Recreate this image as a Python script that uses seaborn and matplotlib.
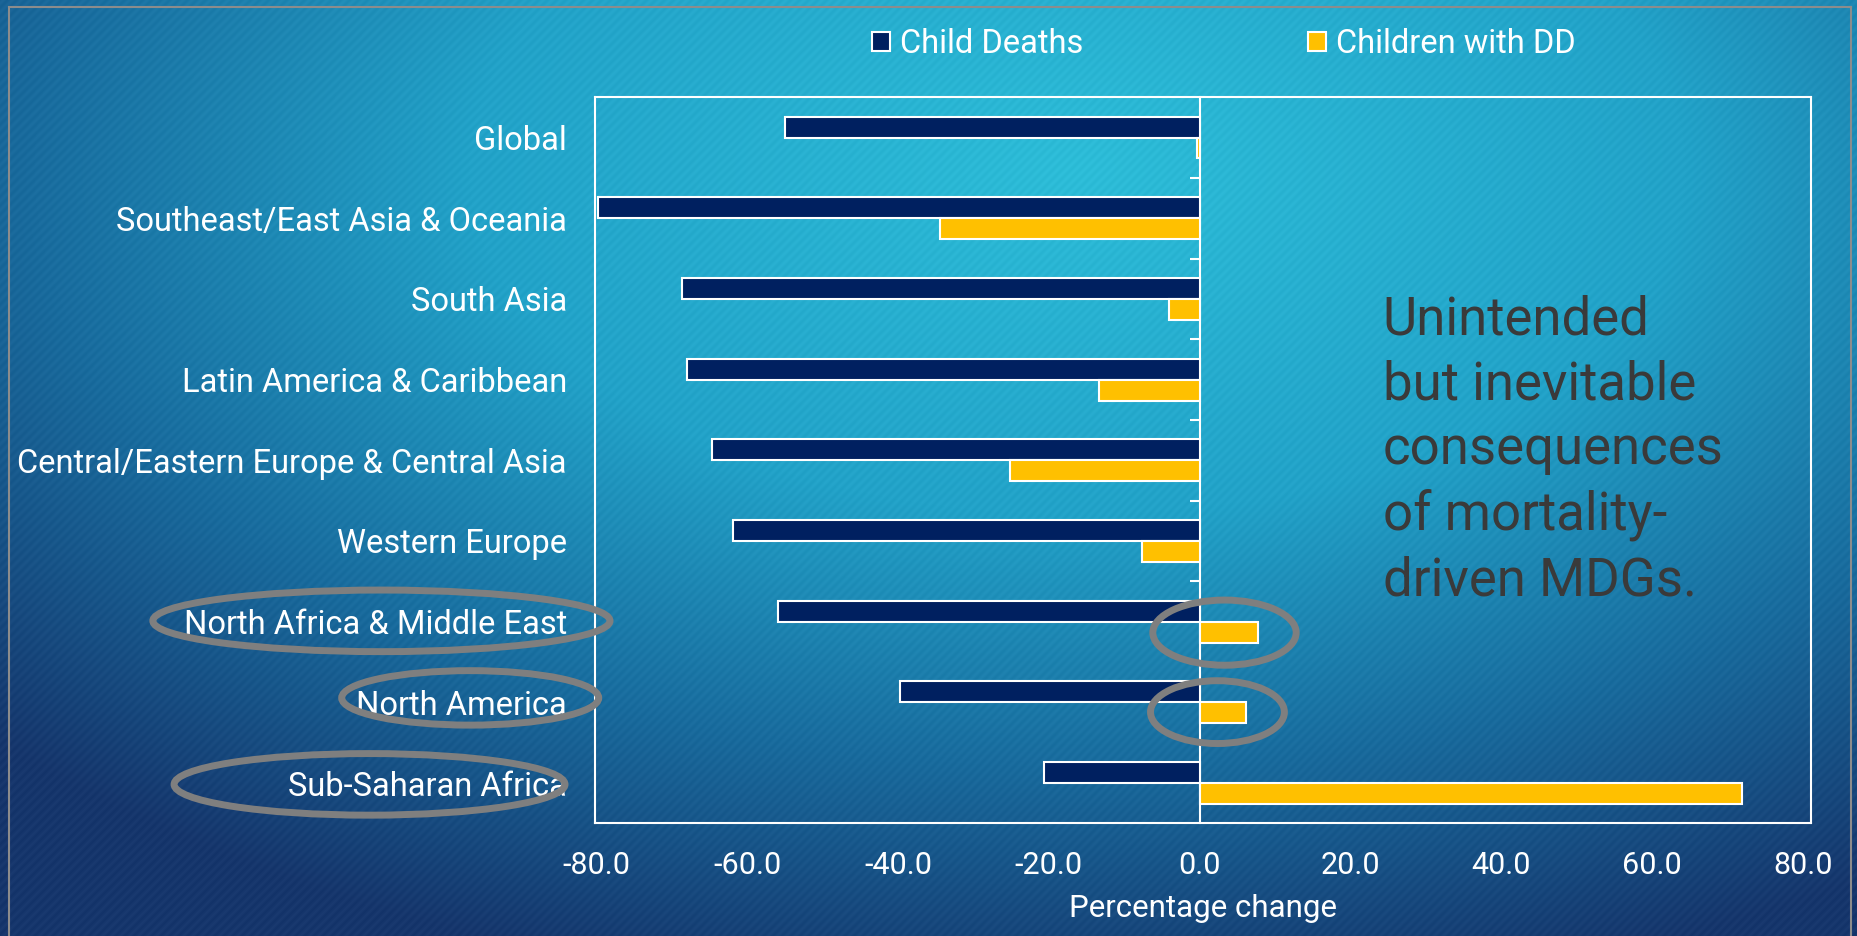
import numpy as np
import pandas as pd
import seaborn as sns
import matplotlib.pyplot as plt
from matplotlib.patches import Ellipse
from matplotlib.lines import Line2D

# Data
regions = [
    "Global",
    "Southeast/East Asia & Oceania",
    "South Asia",
    "Latin America & Caribbean",
    "Central/Eastern Europe & Central Asia",
    "Western Europe",
    "North Africa & Middle East",
    "North America",
    "Sub-Saharan Africa",
]
child_deaths = [-55.0, -79.7, -68.6, -67.9, -64.7, -61.9, -55.9, -39.7, -20.7]
children_dd = [-0.4, -34.4, -4.1, -13.4, -25.1, -7.6, 7.7, 6.1, 71.9]
series = ["Child Deaths", "Children with DD"]
x_ticks = [-80, -60, -40, -20, 0, 20, 40, 60, 80]

plt.rcParams['font.family'] = ['Roboto', 'DejaVu Sans']

df = pd.DataFrame({
    "Region": regions * 2,
    "Series": [series[0]] * len(regions) + [series[1]] * len(regions),
    "Change": child_deaths + children_dd,
})

W, H = 1857, 936
fig = plt.figure(figsize=(W / 100, H / 100), dpi=100)

# Slide background: blue radial gradient with faint diagonal stripes
yy, xx = np.mgrid[0:H, 0:W]
fx, fy = xx / W, yy / H
r = np.sqrt(((fx - 0.58) / 0.78) ** 2 + ((fy - 0.18) / 0.88) ** 2)
stops = [0.0, 0.42, 0.72, 1.02]
cols = np.array([[0x2d, 0xbd, 0xd8], [0x22, 0xa2, 0xc8],
                 [0x19, 0x6c, 0x9e], [0x16, 0x36, 0x6c]]) / 255.0
img = np.stack([np.interp(r, stops, cols[:, i]) for i in range(3)], axis=-1)
stripes = 0.012 * np.sin(2 * np.pi * (xx + yy) / 9.0)
img = np.clip(img + stripes[..., None], 0, 1)
bg = fig.add_axes([0, 0, 1, 1], zorder=-10)
bg.imshow(img, aspect='auto', extent=[0, 1, 0, 1], interpolation='nearest')
bg.axis('off')

# slide border
for xs, ys in [([0.0048, 0.0048], [0, 0.992]), ([0.0048, 0.997], [0.992, 0.992]),
               ([0.997, 0.997], [0, 0.992])]:
    fig.add_artist(Line2D(xs, ys, color='#8c8c8c', lw=1.5, transform=fig.transFigure))

ax = fig.add_axes([0.3202, 0.1203, 0.6549, 0.7759])
ax.patch.set_alpha(0)

sns.barplot(data=df, x="Change", y="Region", hue="Series", orient='y',
            palette=["#002060", "#FFC000"], width=0.52, edgecolor='white',
            linewidth=1.5, saturation=1, ax=ax)

ax.set_xlim(-80.2, 81.0)
ax.set_xticks(x_ticks)
ax.set_xticklabels([f"{t:.1f}" for t in x_ticks])
ax.tick_params(axis='x', length=0, pad=20, labelsize=22, labelcolor='white')
ax.tick_params(axis='y', length=0, pad=20, labelsize=23.5, labelcolor='white')
ax.set_ylabel("")
ax.set_xlabel("Percentage change", fontsize=22.5, color='white', labelpad=10)
for s in ax.spines.values():
    s.set_color('white')
    s.set_linewidth(1.5)

# vertical category axis crossing at zero
zero_pos = (0 - ax.get_xlim()[0]) / (ax.get_xlim()[1] - ax.get_xlim()[0])
sec = ax.secondary_yaxis(zero_pos)
sec.set_yticks([i + 0.5 for i in range(len(regions) - 1)])
sec.set_yticklabels([])
sec.tick_params(axis='y', colors='white', length=7, width=1.5, direction='out')
for s in sec.spines.values():
    s.set_color('white')
    s.set_linewidth(1.5)

# legend across the top
handles, labels = ax.get_legend_handles_labels()
ax.legend_.remove()
fig.legend(handles, labels, loc='center', bbox_to_anchor=(0.659, 0.953), ncol=2,
           frameon=False, fontsize=23.5, labelcolor='white', handlelength=0.55,
           handleheight=0.55, handletextpad=0.3, columnspacing=6.9)

fig.text(0.7446, 0.685, "Unintended\nbut inevitable\nconsequences\nof mortality-\ndriven MDGs.",
         ha='left', va='top', fontsize=38, linespacing=1.34, color='#3a3a3a')

# highlight ellipses
for cx, cy, ew, eh in [(0.2054, 0.3367, 0.2462, 0.0658),
                       (0.2532, 0.2544, 0.1384, 0.0582),
                       (0.1990, 0.1620, 0.2105, 0.0658),
                       (0.6594, 0.3241, 0.0772, 0.0696),
                       (0.6556, 0.2392, 0.0721, 0.0671)]:
    fig.add_artist(Ellipse((cx, cy), ew, eh, transform=fig.transFigure,
                           fill=False, edgecolor='#7f7f7f', lw=5, zorder=10))

fig.savefig("out.png", dpi=100)
